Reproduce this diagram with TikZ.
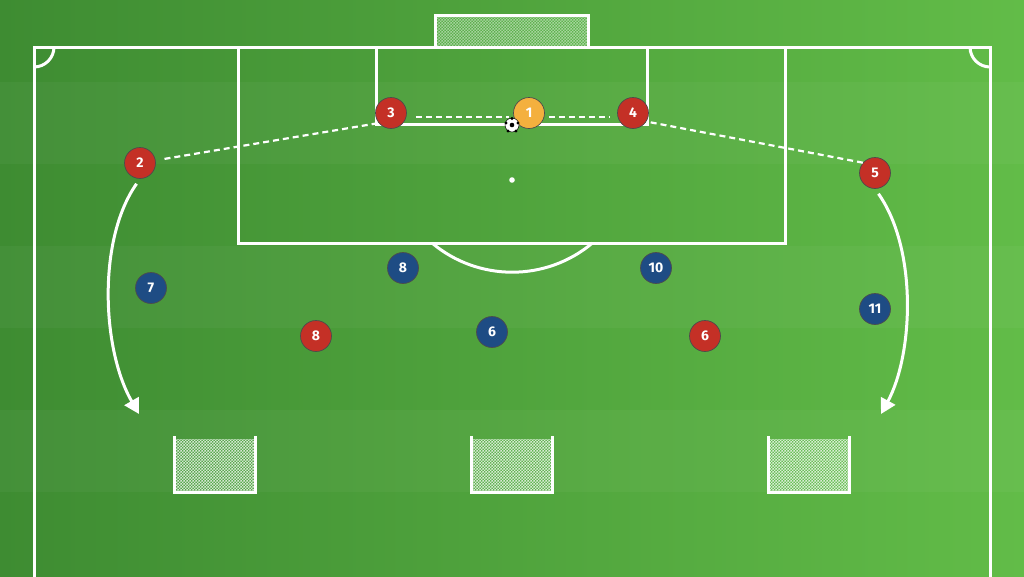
\documentclass[tikz,border=0pt]{standalone}
\usepackage{fontspec}
\setsansfont{Fira Sans}
\usetikzlibrary{arrows.meta,patterns,calc}
\definecolor{grassL}{RGB}{62,140,50}
\definecolor{grassR}{RGB}{98,188,72}
\definecolor{pred}{RGB}{196,48,38}
\definecolor{pblue}{RGB}{30,76,132}
\definecolor{pyel}{RGB}{244,176,62}
\pgfdeclarepatternformonly{finecheck}{\pgfqpoint{0pt}{0pt}}{\pgfqpoint{3.4pt}{3.4pt}}{\pgfqpoint{3.4pt}{3.4pt}}{%
  \pgfpathrectangle{\pgfpointorigin}{\pgfqpoint{1.7pt}{1.7pt}}%
  \pgfpathrectangle{\pgfqpoint{1.7pt}{1.7pt}}{\pgfqpoint{1.7pt}{1.7pt}}%
  \pgfusepath{fill}}
\tikzset{
  pline/.style={draw=white,line width=3pt},
  player/.style={circle,minimum size=31pt,inner sep=0pt,draw=black!70,line width=0.7pt,
     text=white,font=\sffamily\bfseries\fontsize{14}{14}\selectfont},
  red/.style={player,fill=pred},
  blue/.style={player,fill=pblue},
  yel/.style={player,fill=pyel},
  pass/.style={draw=white,line width=2.2pt,dash pattern=on 6pt off 4pt},
  run/.style={draw=white,line width=3pt,-{Triangle[length=15pt,width=16pt]}},
  netfill/.style={fill=white!70!green,fill opacity=0.15},
  netpat/.style={pattern=finecheck,pattern color=white},
}
\begin{document}
\begin{tikzpicture}[x=1pt,y=-1pt]
\useasboundingbox (0,0) rectangle (1024,576);
% grass
\shade[left color=grassL,right color=grassR] (0,0) rectangle (1024,576);
\foreach \y in {82,246,410} {\fill[white,opacity=0.035] (0,\y) rectangle (1024,\y+82);}
% main goal
\fill[netfill] (435,15) rectangle (588,47);
\fill[netpat,opacity=0.45] (435,15) rectangle (588,47);
\draw[pline] (435,47) -- (435,15) -- (588,15) -- (588,47);
% pitch lines
\draw[pline] (34,577) -- (34,47) -- (990,47) -- (990,577);
\draw[pline] (238,47) rectangle (785,243);
\draw[pline] (376,47) rectangle (647,124);
\draw[pline] (432,243) arc[start angle=130,end angle=50,radius=124.8];
\draw[pline] (34,67) arc[start angle=90,end angle=0,radius=20];
\draw[pline] (970,47) arc[start angle=180,end angle=90,radius=20];
\fill[white] (512,180) circle (2.8);
% mini goals
\foreach \gx/\gn in {174/ga,471/gb,768/gc} {
  \fill[netfill] (\gx,439) rectangle (\gx+81,492);
  \fill[netpat,opacity=0.75] (\gx,439) rectangle (\gx+81,492);
  \draw[pline] (\gx,436) -- (\gx,492) -- (\gx+81,492) -- (\gx+81,436);
}
% players
\node[red] (r2) at (140,163) {2};
\node[red] (r3) at (391,113) {3};
\node[yel] (y1) at (529,113) {1};
\node[red] (r4) at (633,113) {4};
\node[red] (r5) at (875,173) {5};
\node[red] (r8) at (316,336) {8};
\node[red] (r6) at (705,336) {6};
\node[blue] (b7) at (151,288) {7};
\node[blue] (b8) at (403,268) {8};
\node[blue] (b10) at (656,268) {10};
\node[blue] (b6) at (492,332) {6};
\node[blue] (b11) at (875,309) {11};
% ball
\node[circle,fill=white,draw=black,line width=0.5pt,minimum size=14pt,inner sep=0pt] (ball) at (512,125) {};
\fill[black] (512,125) circle (2.3);
\fill[black] (512,118.5) circle (1.6);
\fill[black] (518,123) circle (1.6);
\fill[black] (506,123) circle (1.6);
\fill[black] (508,131) circle (1.6);
\fill[black] (516,131) circle (1.6);
% passes
\draw[pass,shorten <=9pt,shorten >=14pt] (r2) -- ([yshift=-8pt]r3.center);
\draw[pass,shorten <=9pt,shorten >=4pt] ([yshift=-4pt]r3.east) -- ([yshift=-4pt]y1.west);
\draw[pass,shorten <=4pt,shorten >=8pt] ([yshift=-4pt]y1.east) -- ([yshift=-4pt]r4.west);
\draw[pass,shorten <=18pt,shorten >=9pt] ([yshift=-6pt]r4.center) -- ([yshift=8pt]r5.center);
% runs
\coordinate (lend) at (139,414);
\coordinate (rend) at (881,414);
\draw[run,shorten <=6pt] (r2.south) .. controls (97,240) and (102,350) .. (lend);
\draw[run,shorten <=6pt] (r5.south) .. controls (918,250) and (913,355) .. (rend);
\end{tikzpicture}
\end{document}
